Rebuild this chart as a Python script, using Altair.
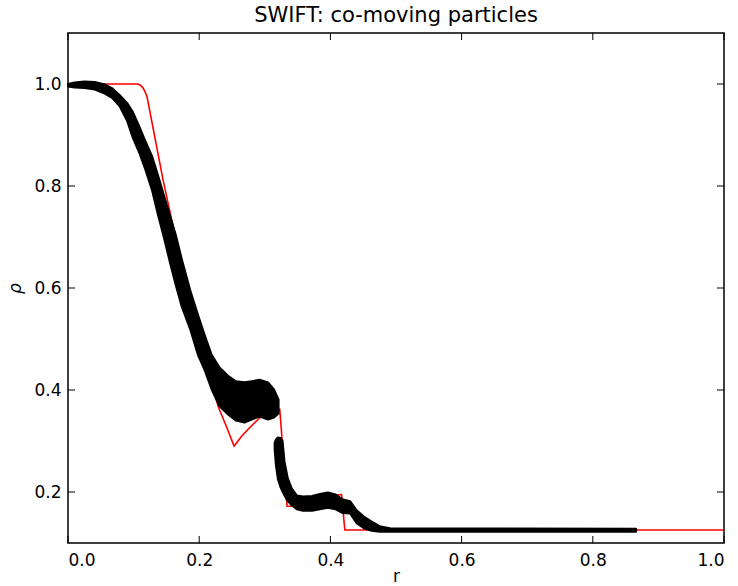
import altair as alt
import pandas as pd

# ---- data ----
x_ticks = [0.0, 0.2, 0.4, 0.6, 0.8, 1.0]
y_ticks = [0.2, 0.4, 0.6, 0.8, 1.0]

# analytic solution (red)
red_r = [0.0, 0.106, 0.110, 0.114, 0.117, 0.1205, 0.1449, 0.1678, 0.185, 0.200,
         0.215, 0.2288, 0.241, 0.2532, 0.265, 0.279, 0.2924, 0.3178, 0.3228,
         0.3279, 0.334, 0.350, 0.370, 0.390, 0.4093, 0.417, 0.422, 1.0]
red_rho = [1.0, 1.0, 0.998, 0.993, 0.986, 0.975, 0.812, 0.675, 0.585, 0.508,
           0.435, 0.368, 0.330, 0.290, 0.310, 0.329, 0.3455, 0.362, 0.362,
           0.277, 0.172, 0.172, 0.176, 0.184, 0.194, 0.195, 0.1255, 0.1255]

# particle band (black), inner region
band1_r = [0.000, 0.010, 0.025, 0.041, 0.056, 0.067, 0.079, 0.090, 0.099, 0.109,
           0.118, 0.128, 0.137, 0.146, 0.155, 0.164, 0.173, 0.186, 0.198, 0.208,
           0.219, 0.231, 0.244, 0.256, 0.269, 0.280, 0.292, 0.305, 0.314, 0.321]
band1_hi = [1.000, 1.003, 1.005, 1.004, 0.999, 0.992, 0.978, 0.963, 0.945, 0.916,
            0.888, 0.859, 0.822, 0.783, 0.744, 0.706, 0.659, 0.597, 0.548, 0.509,
            0.469, 0.444, 0.428, 0.417, 0.415, 0.417, 0.420, 0.415, 0.401, 0.381]
band1_lo = [0.995, 0.993, 0.992, 0.989, 0.981, 0.973, 0.956, 0.928, 0.894, 0.864,
            0.832, 0.792, 0.744, 0.700, 0.652, 0.607, 0.565, 0.520, 0.469, 0.440,
            0.401, 0.368, 0.352, 0.340, 0.336, 0.342, 0.348, 0.342, 0.346, 0.354]

# particle band (black), outer region
band2_r = [0.315, 0.317, 0.320, 0.324, 0.327, 0.330, 0.335, 0.341, 0.349, 0.358,
           0.372, 0.384, 0.396, 0.408, 0.418, 0.430, 0.440, 0.451, 0.463, 0.475,
           0.491, 0.866]
band2_hi = [0.297, 0.303, 0.307, 0.306, 0.301, 0.260, 0.227, 0.207, 0.193, 0.191,
            0.192, 0.196, 0.199, 0.195, 0.186, 0.182, 0.164, 0.152, 0.142, 0.133,
            0.129, 0.128]
band2_lo = [0.283, 0.252, 0.225, 0.209, 0.201, 0.193, 0.182, 0.174, 0.166, 0.163,
            0.163, 0.166, 0.169, 0.166, 0.159, 0.158, 0.139, 0.129, 0.124, 0.122,
            0.122, 0.122]

# ---- chart ----
W, H = 656, 510
FONT = "DejaVu Sans"
xs = alt.Scale(domain=[0, 1], nice=False, zero=False)
ys = alt.Scale(domain=[0.1, 1.1], nice=False, zero=False)

x_axis = alt.Axis(
    values=x_ticks, format=".1f", ticks=False, tickSize=0, domain=False, grid=False,
    labelFont=FONT, labelFontSize=17, labelColor="black", labelPadding=9,
    title="r", titleFont=FONT, titleFontSize=17, titleFontWeight="normal",
    titleColor="black", titlePadding=0)
y_axis = alt.Axis(
    values=y_ticks, format=".1f", ticks=False, tickSize=0, domain=False, grid=False,
    labelFont=FONT, labelFontSize=17, labelColor="black", labelPadding=7,
    title="ρ", titleFont=FONT, titleFontSize=17, titleFontWeight="normal",
    titleFontStyle="italic", titleColor="black", titlePadding=9)

red_df = pd.DataFrame({"r": red_r, "rho": red_rho, "i": list(range(len(red_r)))})
band_df = pd.DataFrame({
    "r": band1_r + band2_r,
    "hi": band1_hi + band2_hi,
    "lo": band1_lo + band2_lo,
    "seg": ["a"] * len(band1_r) + ["b"] * len(band2_r),
})
xt_df = pd.DataFrame({"r": x_ticks})
yt_df = pd.DataFrame({"rho": y_ticks})

red = alt.Chart(red_df).mark_line(color="#ff0000", strokeWidth=1.6).encode(
    x=alt.X("r:Q", scale=xs, axis=x_axis),
    y=alt.Y("rho:Q", scale=ys, axis=y_axis),
    order="i:Q",
)

band = alt.Chart(band_df).mark_area(
    color="black", stroke="black", strokeWidth=2, strokeJoin="round", opacity=1
).encode(
    x=alt.X("r:Q", scale=xs, axis=x_axis),
    y=alt.Y("hi:Q", scale=ys, axis=y_axis),
    y2="lo:Q",
    detail="seg:N",
)

tick_len = 7
t_bottom = alt.Chart(xt_df).mark_rule(color="black", strokeWidth=1).encode(
    x=alt.X("r:Q", scale=xs, axis=x_axis), y=alt.value(H), y2=alt.value(H - tick_len))
t_top = alt.Chart(xt_df).mark_rule(color="black", strokeWidth=1).encode(
    x=alt.X("r:Q", scale=xs, axis=x_axis), y=alt.value(0), y2=alt.value(tick_len))
t_left = alt.Chart(yt_df).mark_rule(color="black", strokeWidth=1).encode(
    y=alt.Y("rho:Q", scale=ys, axis=y_axis), x=alt.value(0), x2=alt.value(tick_len))
t_right = alt.Chart(yt_df).mark_rule(color="black", strokeWidth=1).encode(
    y=alt.Y("rho:Q", scale=ys, axis=y_axis), x=alt.value(W), x2=alt.value(W - tick_len))

chart = alt.layer(red, band, t_bottom, t_top, t_left, t_right).properties(
    width=W, height=H,
    title=alt.TitleParams("SWIFT: co-moving particles", font=FONT, fontSize=21,
                          fontWeight="normal", color="black", offset=7),
    padding={"left": 68, "top": 33, "right": 14, "bottom": 43},
    autosize="none",
    background="white",
).configure_view(stroke="black", strokeWidth=1.5)

chart.save("out.html", embed_options={"renderer": "svg", "actions": False})
